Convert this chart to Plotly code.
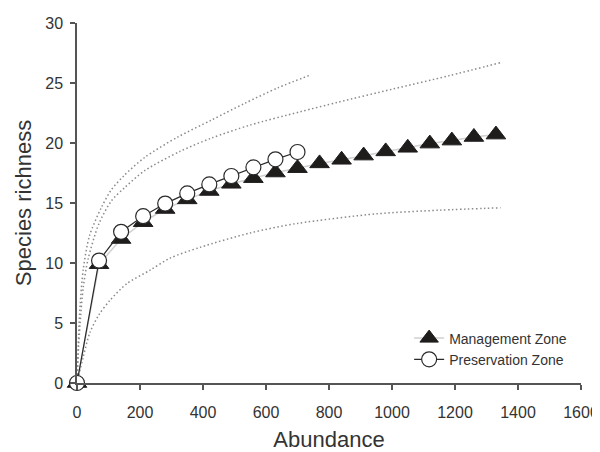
import plotly.graph_objects as go

# Rarefaction sample sizes (abundance)
mgmt_x = [0, 70, 140, 210, 280, 350, 420, 490, 560, 630, 700, 770, 840, 910, 980, 1050, 1120, 1190, 1260, 1330]
mgmt_y = [0, 9.9, 12.0, 13.4, 14.5, 15.3, 16.0, 16.6, 17.07, 17.54, 17.9, 18.3, 18.6, 18.95, 19.3, 19.6, 19.95, 20.2, 20.5, 20.7]

pres_x = [0, 70, 140, 210, 280, 350, 420, 490, 560, 630, 700]
pres_y = [0, 10.2, 12.6, 13.9, 14.95, 15.8, 16.55, 17.25, 17.97, 18.64, 19.25]

# Confidence bounds (dotted)
pres_upper_x = [0, 5, 10, 20, 40, 77, 109, 150, 215, 320, 426, 532, 638, 744]
pres_upper_y = [0, 4.0, 6.5, 9.5, 12.3, 14.6, 16.1, 17.3, 18.8, 20.5, 21.9, 23.3, 24.6, 25.7]

mgmt_upper_x = [0, 5, 10, 20, 35, 70, 110, 152, 215, 327, 426, 550, 708, 829, 1003, 1180, 1345]
mgmt_upper_y = [0, 3.0, 5.0, 8.0, 10.3, 13.3, 15.2, 16.3, 17.7, 19.3, 20.4, 21.5, 22.6, 23.4, 24.5, 25.6, 26.7]

mgmt_lower_x = [0, 20, 41, 70, 105, 159, 232, 295, 390, 549, 700, 952, 1150, 1345]
mgmt_lower_y = [0, 2.2, 4.2, 5.7, 6.9, 8.3, 9.4, 10.4, 11.3, 12.5, 13.3, 14.1, 14.4, 14.6]

x_ticks = [0, 200, 400, 600, 800, 1000, 1200, 1400, 1600]
y_ticks = [0, 5, 10, 15, 20, 25, 30]

FONT = "Liberation Sans, Arial, sans-serif"
dot_line = dict(color="#8a8a8a", width=1.5, dash="1.5px,2.5px", shape="spline", smoothing=0.8)

fig = go.Figure()
for bx, by in [(pres_upper_x, pres_upper_y), (mgmt_upper_x, mgmt_upper_y), (mgmt_lower_x, mgmt_lower_y)]:
    fig.add_trace(go.Scatter(x=bx, y=by, mode="lines", line=dot_line,
                             showlegend=False, hoverinfo="skip", cliponaxis=False))

fig.add_trace(go.Scatter(
    x=mgmt_x, y=mgmt_y, mode="lines+markers", name="Management Zone",
    line=dict(color="#d0d0d0", width=1.5),
    marker=dict(symbol="triangle-up", size=17, color="#1f1c1c",
                line=dict(color="#1f1c1c", width=1)),
    cliponaxis=False))

fig.add_trace(go.Scatter(
    x=pres_x, y=pres_y, mode="lines+markers", name="Preservation Zone",
    line=dict(color="#2a2a2a", width=1.2),
    marker=dict(symbol="circle", size=15, color="white",
                line=dict(color="#2a2a2a", width=1.2)),
    cliponaxis=False))

# page body has an 8px margin, so the figure is 592x444 and offset by 8px
fig.update_layout(
    width=592, height=444,
    margin=dict(l=69, r=19, t=15, b=69),
    paper_bgcolor="white", plot_bgcolor="white",
    font=dict(family=FONT, color="#333333", size=16),
    showlegend=True,
    legend=dict(x=0.659, y=0.168, xanchor="left", yanchor="top",
                font=dict(size=14, color="#333333"), bgcolor="rgba(0,0,0,0)",
                tracegroupgap=0),
)
fig.update_xaxes(
    range=[0, 1600], tickvals=x_ticks, ticktext=[str(v) for v in x_ticks],
    showline=True, linecolor="#555555", linewidth=1.5,
    ticks="outside", ticklen=5, tickcolor="#555555", tickwidth=1.5,
    showgrid=False, zeroline=False, automargin=False,
    ticklabelstandoff=9,
    tickfont=dict(size=16, color="#333333"),
    title=dict(text="Abundance", font=dict(size=22, color="#333333"), standoff=12),
)
fig.update_yaxes(
    range=[0, 30], tickvals=y_ticks, ticktext=[str(v) for v in y_ticks],
    showline=True, linecolor="#555555", linewidth=1.5,
    ticks="outside", ticklen=5, tickcolor="#555555", tickwidth=1.5,
    showgrid=False, zeroline=False, automargin=False,
    ticklabelstandoff=4,
    tickfont=dict(size=16, color="#333333"),
    title=dict(text="Species richness", font=dict(size=22, color="#333333"), standoff=8),
)

fig.write_html("out.html")
